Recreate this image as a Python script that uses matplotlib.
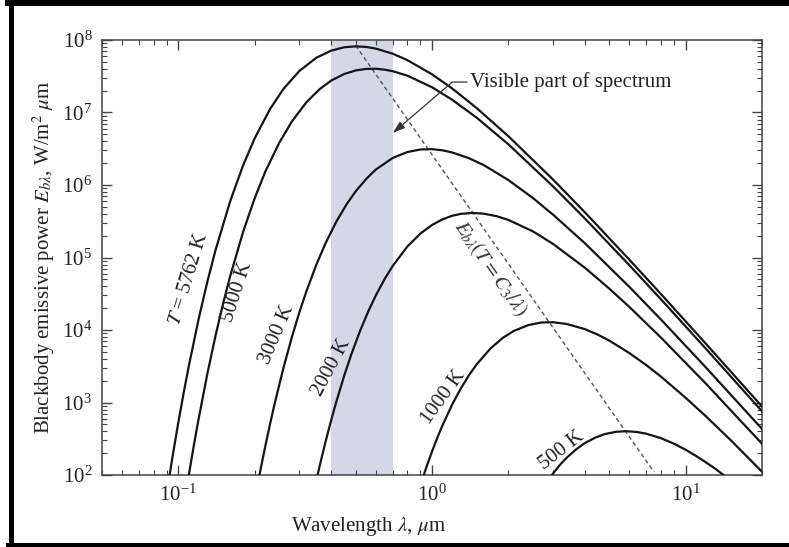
import matplotlib.pyplot as plt
from matplotlib.ticker import LogLocator, NullFormatter
from matplotlib.lines import Line2D

plt.rcParams['font.family'] = ['Liberation Serif', 'DejaVu Serif']
plt.rcParams['mathtext.fontset'] = 'stix'
plt.rcParams['font.size'] = 15

# wavelength (um) and blackbody emissive power (W/m^2 um)
lam_5762 = [0.09, 0.095, 0.1, 0.105, 0.11, 0.12, 0.13, 0.14, 0.16, 0.18, 0.2, 0.23, 0.26, 0.3, 0.35,
            0.4, 0.45, 0.5, 0.55, 0.6, 0.7, 0.8, 1.0, 1.2, 1.5, 2, 3, 4, 6, 8, 12, 20]
e_5762 = [56.6, 186, 535, 1380, 3220, 1.38e4, 4.59e4, 1.25e5, 5.95e5, 1.87e6, 4.42e6, 1.12e7, 2.13e7,
          3.74e7, 5.69e7, 7.12e7, 7.93e7, 8.17e7, 8.02e7, 7.62e7, 6.47e7, 5.27e7, 3.36e7, 2.15e7,
          1.15e7, 4.71e6, 1.19e6, 4.22e5, 9.32e4, 3.12e4, 6.50e3, 880]

lam_5000 = [0.105, 0.11, 0.115, 0.12, 0.13, 0.14, 0.15, 0.16, 0.18, 0.2, 0.22, 0.25, 0.28, 0.32, 0.36,
            0.4, 0.45, 0.5, 0.55, 0.6, 0.65, 0.7, 0.8, 1.0, 1.2, 1.5, 2, 3, 4, 6, 8, 12, 20]
e_5000 = [36.7, 101, 253, 579, 2460, 8240, 2.30e4, 5.52e4, 2.26e5, 6.60e5, 1.52e6, 3.84e6, 7.48e6,
          1.39e7, 2.09e7, 2.75e7, 3.39e7, 3.80e7, 3.99e7, 4.01e7, 3.90e7, 3.71e7, 3.22e7, 2.23e7,
          1.50e7, 8.48e6, 3.64e6, 9.57e5, 3.47e5, 7.82e4, 2.64e4, 5.55e3, 756]

lam_3000 = [0.2, 0.21, 0.22, 0.23, 0.24, 0.26, 0.28, 0.3, 0.32, 0.35, 0.38, 0.42, 0.46, 0.5, 0.55,
            0.6, 0.7, 0.8, 0.9, 1.0, 1.1, 1.2, 1.4, 1.6, 2, 2.5, 3, 4, 6, 8, 12, 20]
e_3000 = [45.0, 111, 247, 511, 985, 3070, 7910, 1.76e4, 3.45e4, 7.97e4, 1.56e5, 3.15e5, 5.39e5,
          8.18e5, 1.21e6, 1.63e6, 2.36e6, 2.85e6, 3.09e6, 3.12e6, 3.01e6, 2.81e6, 2.34e6, 1.88e6,
          1.17e6, 6.60e5, 3.90e5, 1.58e5, 3.93e4, 1.39e4, 3.06e3, 432]

lam_2000 = [0.34, 0.36, 0.38, 0.4, 0.42, 0.45, 0.48, 0.52, 0.56, 0.6, 0.65, 0.7, 0.8, 0.9, 1.0,
            1.1, 1.2, 1.3, 1.45, 1.6, 1.8, 2, 2.5, 3, 4, 5, 6, 8, 12, 20]
e_2000 = [53.3, 130, 284, 565, 1040, 2310, 4550, 9660, 1.79e4, 2.99e4, 5.03e4, 7.66e4, 1.42e5,
          2.14e5, 2.81e5, 3.36e5, 3.76e5, 4.00e5, 4.12e5, 4.02e5, 3.71e5, 3.30e5, 2.29e5, 1.54e5,
          7.25e4, 3.72e4, 2.08e4, 7.83e3, 1.83e3, 270]

lam_1000 = [0.9, 0.95, 1.0, 1.05, 1.1, 1.2, 1.3, 1.4, 1.5, 1.7, 1.9, 2.1, 2.4, 2.7, 3, 3.4,
            4, 4.5, 5, 6, 7, 8, 10, 12, 15, 20]
e_1000 = [72.3, 128, 211, 328, 485, 933, 1570, 2390, 3360, 5560, 7780, 9700, 1.17e4, 1.27e4,
          1.28e4, 1.21e4, 1.03e4, 8640, 7140, 4810, 3270, 2270, 1160, 649, 306, 111]

lam_500 = [2.9, 3.0, 3.2, 3.4, 3.7, 4.0, 4.4, 4.8, 5.3, 5.8, 6.4, 7, 8, 9, 10, 11, 12, 13, 14, 15]
e_500 = [89.4, 105, 139, 174, 226, 275, 328, 367, 394, 402, 393, 371, 322, 270, 223, 183, 150,
         124, 102, 84.8]

# locus of the peaks (Wien's displacement law)
wien_lam = [0.5, 7.5]
wien_e = [8.4e7, 110]

visible_band = (0.4, 0.7)

curves = [(lam_5762, e_5762), (lam_5000, e_5000), (lam_3000, e_3000),
          (lam_2000, e_2000), (lam_1000, e_1000), (lam_500, e_500)]

# label text, anchor (um, W/m^2 um), rotation
curve_labels = [
    ("$T$ = 5762 K", 0.110, 5.05e4, 73),
    ("5000 K", 0.170, 3.34e4, 72),
    ("3000 K", 0.245, 8.53e3, 67),
    ("2000 K", 0.400, 2.99e3, 62),
    ("1000 K", 1.115, 1.19e3, 54),
    ("500 K", 3.23, 214, 38),
]

fig = plt.figure(figsize=(7.89, 5.47), dpi=100)
ax = fig.add_axes([0.1293, 0.1316, 0.8365, 0.7953])
ax.set_xscale('log')
ax.set_yscale('log')

ax.axvspan(*visible_band, color='#d3d8e4', lw=0, zorder=0)

for lam, e in curves:
    ax.plot(lam, e, color='#151515', lw=1.6, zorder=3)

ax.plot(wien_lam, wien_e, color='#555555', lw=1.0, linestyle=(0, (3, 2.2)), zorder=2)

for txt, x, y, rot in curve_labels:
    ax.text(x, y, txt, rotation=rot, rotation_mode='anchor', ha='center', va='center',
            color='#222222', fontsize=15)

ax.text(1.693, 7.16e4, r"$E_{b\lambda}(T = C_3/\lambda)$", rotation=-55, rotation_mode='anchor',
        ha='center', va='center', color='#333333', fontsize=15)

ax.annotate("Visible part of spectrum", xy=(0.7, 5.2e6), xytext=(1.41, 2.63e7),
            ha='left', va='center', color='#222222', fontsize=15,
            arrowprops=dict(arrowstyle='-|>,head_length=0.5,head_width=0.16', color='#333333',
                            lw=0.9, relpos=(0, 0.5), shrinkA=0, shrinkB=0,
                            connectionstyle='angle,angleA=0,angleB=40.6,rad=0'))

ax.set_xlim(0.05, 20)
ax.set_ylim(1e2, 1e8)

ax.xaxis.set_minor_locator(LogLocator(base=10, subs=range(2, 10), numticks=100))
ax.yaxis.set_minor_locator(LogLocator(base=10, subs=range(2, 10), numticks=100))
ax.xaxis.set_minor_formatter(NullFormatter())
ax.yaxis.set_minor_formatter(NullFormatter())

ax.tick_params(which='both', direction='in', top=True, right=True, colors='#444444',
               labelcolor='#222222', labelsize=15)
ax.tick_params(which='major', length=7, width=1.0, pad=7)
ax.tick_params(which='minor', length=3.5, width=0.8)
for sp in ax.spines.values():
    sp.set_color('#444444')
    sp.set_linewidth(1.1)

ax.set_xlabel(r"Wavelength $\lambda$, $\mu$m", color='#222222', fontsize=15)
ax.set_ylabel(r"Blackbody emissive power $E_{b\lambda}$, W/m$^2$ $\mu$m", color='#222222',
              fontsize=15)
ax.xaxis.set_label_coords(0.403, -0.093)
ax.yaxis.set_label_coords(-0.068, 0.5)

# thick black border of the scanned figure
fig.add_artist(Line2D([8 / 789, 1], [1 - 3 / 547, 1 - 3 / 547], color='black', lw=4.3))
fig.add_artist(Line2D([10.5 / 789, 10.5 / 789], [0, 1], color='black', lw=3.6))
fig.add_artist(Line2D([8 / 789, 1], [2 / 547, 2 / 547], color='black', lw=2.9))

fig.savefig("out.png", dpi=100)
